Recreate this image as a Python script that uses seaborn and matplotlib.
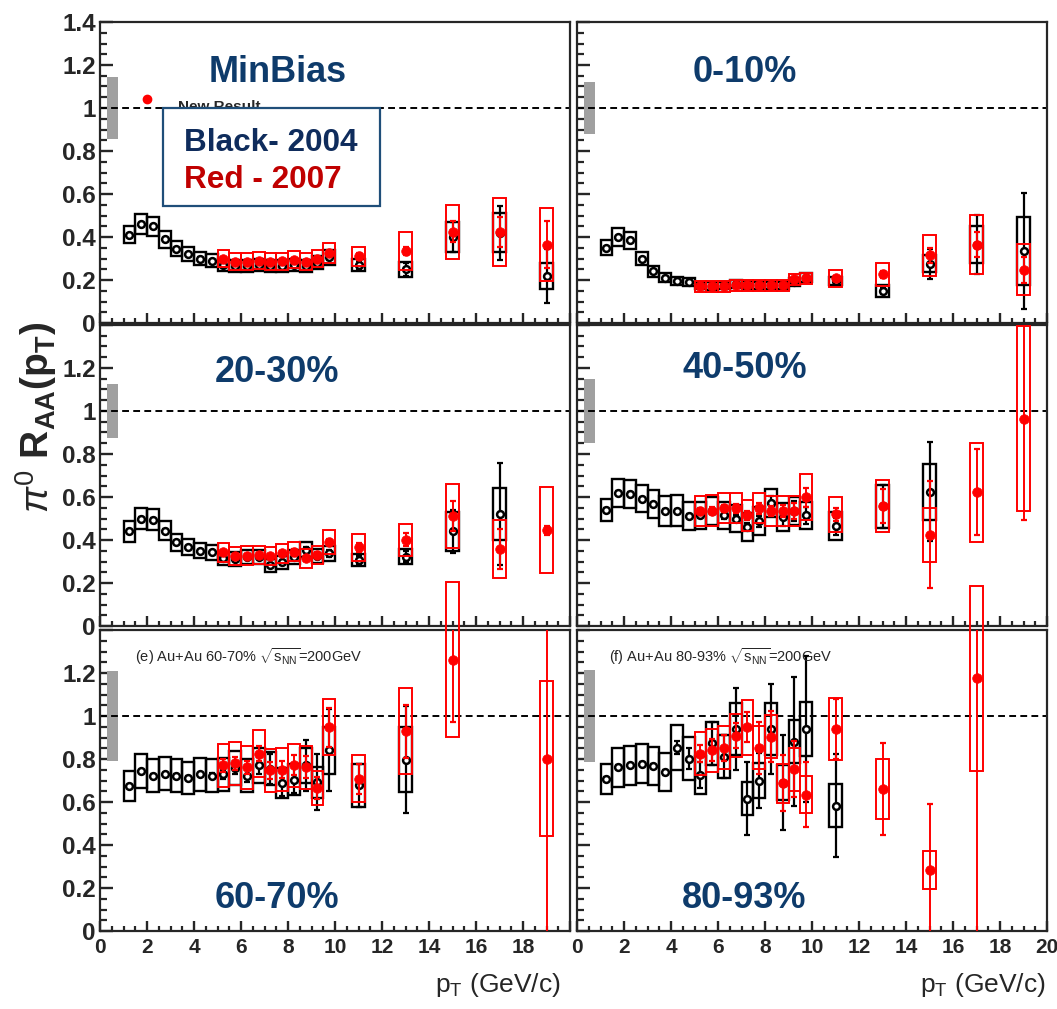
import numpy as np
import pandas as pd
import matplotlib
matplotlib.use("Agg")
import matplotlib.pyplot as plt
import seaborn as sns
from matplotlib.patches import Rectangle
from matplotlib.ticker import MultipleLocator
from matplotlib import font_manager

nan = np.nan

# ---------------- data ----------------
pt_2004 = [1.25, 1.75, 2.25, 2.75, 3.25, 3.75, 4.25, 4.75, 5.25, 5.75, 6.25, 6.75,
           7.25, 7.75, 8.25, 8.75, 9.25, 9.75, 11, 13, 15, 17, 19]
pt_2007 = [5.25, 5.75, 6.25, 6.75, 7.25, 7.75, 8.25, 8.75, 9.25, 9.75, 11, 13, 15, 17, 19]

panel_labels = ["MinBias", "0-10%", "20-30%", "40-50%", "60-70%", "80-93%"]
norm_unc = [0.145, 0.122, 0.125, 0.15, 0.21, 0.214]

# MinBias
mb04_y = [0.41, 0.46, 0.45, 0.39, 0.345, 0.32, 0.30, 0.29, 0.27, 0.265, 0.265, 0.27, 0.265, 0.265, 0.27, 0.265, 0.28, 0.305, 0.27, 0.25, 0.40, 0.42, 0.22]
mb04_stat = [0.005, 0.005, 0.005, 0.005, 0.005, 0.005, 0.005, 0.005, 0.006, 0.006, 0.006, 0.007, 0.007, 0.008, 0.008, 0.009, 0.01, 0.012, 0.02, 0.03, 0.07, 0.125, 0.125]
mb04_sys = [0.04, 0.045, 0.045, 0.04, 0.035, 0.032, 0.03, 0.03, 0.028, 0.028, 0.028, 0.028, 0.028, 0.028, 0.028, 0.028, 0.03, 0.035, 0.028, 0.035, 0.072, 0.09, 0.06]
mb07_y = [0.30, 0.285, 0.285, 0.29, 0.285, 0.287, 0.294, 0.285, 0.30, 0.325, 0.31, 0.335, 0.425, 0.423, 0.365]
mb07_stat = [0.008, 0.008, 0.008, 0.008, 0.008, 0.009, 0.009, 0.01, 0.012, 0.014, 0.015, 0.02, 0.05, 0.07, 0.11]
mb07_sys = [0.04, 0.04, 0.04, 0.04, 0.04, 0.04, 0.04, 0.04, 0.04, 0.045, 0.043, 0.09, 0.125, 0.16, 0.17]

# 0-10%
c0_04_y = [0.35, 0.40, 0.385, 0.30, 0.24, 0.21, 0.195, 0.19, 0.175, 0.172, 0.175, 0.183, 0.178, 0.175, 0.175, 0.175, 0.19, 0.21, 0.195, 0.15, 0.275, 0.365, 0.335]
c0_04_stat = [0.004, 0.004, 0.004, 0.004, 0.004, 0.004, 0.004, 0.004, 0.004, 0.004, 0.005, 0.005, 0.005, 0.006, 0.006, 0.007, 0.008, 0.009, 0.01, 0.015, 0.07, 0.138, 0.27]
c0_04_sys = [0.035, 0.04, 0.04, 0.03, 0.025, 0.021, 0.02, 0.02, 0.018, 0.018, 0.018, 0.019, 0.018, 0.018, 0.018, 0.018, 0.019, 0.021, 0.02, 0.028, 0.04, 0.087, 0.16]
c0_07_y = [0.17, 0.17, 0.17, 0.176, 0.176, 0.176, 0.176, 0.176, 0.204, 0.208, 0.208, 0.226, 0.314, 0.365, 0.248]
c0_07_stat = [0.004, 0.004, 0.004, 0.004, 0.005, 0.005, 0.005, 0.006, 0.007, 0.008, 0.01, 0.015, 0.035, 0.06, 0.06]
c0_07_sys = [0.025, 0.025, 0.025, 0.025, 0.025, 0.025, 0.025, 0.025, 0.025, 0.025, 0.04, 0.055, 0.095, 0.138, 0.12]

# 20-30%
c20_04_y = [0.44, 0.50, 0.495, 0.443, 0.39, 0.366, 0.349, 0.343, 0.314, 0.31, 0.322, 0.32, 0.283, 0.296, 0.32, 0.354, 0.327, 0.338, 0.307, 0.322, 0.44, 0.522, nan]
c20_04_stat = [0.006, 0.006, 0.006, 0.006, 0.006, 0.006, 0.006, 0.006, 0.007, 0.007, 0.008, 0.008, 0.009, 0.01, 0.011, 0.012, 0.014, 0.016, 0.02, 0.025, 0.1, 0.236, nan]
c20_04_sys = [0.047, 0.05, 0.05, 0.045, 0.04, 0.037, 0.035, 0.035, 0.032, 0.032, 0.032, 0.032, 0.03, 0.03, 0.032, 0.035, 0.033, 0.034, 0.03, 0.035, 0.09, 0.12, nan]
c20_07_y = [0.343, 0.325, 0.327, 0.33, 0.325, 0.338, 0.346, 0.314, 0.33, 0.39, 0.366, 0.401, 0.511, 0.358, 0.445]
c20_07_stat = [0.008, 0.008, 0.008, 0.008, 0.009, 0.01, 0.01, 0.011, 0.012, 0.015, 0.02, 0.03, 0.07, 0.095, 0.02]
c20_07_sys = [0.043, 0.043, 0.043, 0.043, 0.043, 0.043, 0.043, 0.043, 0.043, 0.055, 0.063, 0.075, 0.15, 0.136, 0.2]

# 40-50%
c40_04_y = [0.54, 0.62, 0.615, 0.593, 0.566, 0.535, 0.537, 0.511, 0.514, 0.537, 0.514, 0.50, 0.461, 0.487, 0.574, 0.506, 0.535, 0.514, 0.464, 0.558, 0.624, nan, nan]
c40_04_stat = [0.008, 0.008, 0.008, 0.008, 0.008, 0.008, 0.008, 0.008, 0.01, 0.012, 0.015, 0.018, 0.02, 0.025, 0.03, 0.04, 0.045, 0.04, 0.04, 0.1, 0.23, nan, nan]
c40_04_sys = [0.053, 0.066, 0.066, 0.065, 0.065, 0.07, 0.07, 0.065, 0.065, 0.065, 0.065, 0.065, 0.065, 0.065, 0.065, 0.065, 0.065, 0.065, 0.065, 0.1, 0.13, nan, nan]
c40_07_y = [0.535, 0.537, 0.547, 0.547, 0.514, 0.547, 0.535, 0.535, 0.535, 0.598, 0.519, 0.558, 0.425, 0.621, 0.964]
c40_07_stat = [0.015, 0.015, 0.018, 0.02, 0.02, 0.025, 0.025, 0.03, 0.035, 0.045, 0.03, 0.08, 0.25, 0.2, 0.47]
c40_07_sys = [0.07, 0.07, 0.07, 0.07, 0.07, 0.07, 0.07, 0.07, 0.07, 0.107, 0.08, 0.12, 0.125, 0.23, 0.43]

# 60-70%
c60_04_y = [0.673, 0.744, 0.723, 0.731, 0.723, 0.712, 0.728, 0.723, 0.728, 0.758, 0.723, 0.77, 0.755, 0.687, 0.703, 0.77, 0.692, 0.841, 0.679, 0.797, nan, nan, nan]
c60_04_stat = [0.006, 0.006, 0.006, 0.006, 0.006, 0.007, 0.008, 0.01, 0.02, 0.03, 0.03, 0.04, 0.07, 0.06, 0.06, 0.12, 0.13, 0.19, 0.1, 0.25, nan, nan, nan]
c60_04_sys = [0.07, 0.077, 0.075, 0.076, 0.075, 0.074, 0.075, 0.075, 0.075, 0.078, 0.075, 0.08, 0.078, 0.07, 0.072, 0.08, 0.072, 0.11, 0.1, 0.15, nan, nan, nan]
c60_07_y = [0.77, 0.781, 0.762, 0.825, 0.747, 0.75, 0.772, 0.762, 0.665, 0.948, 0.708, 0.928, 1.261, nan, 0.802]
c60_07_stat = [0.03, 0.03, 0.03, 0.035, 0.04, 0.04, 0.045, 0.05, 0.05, 0.09, 0.07, 0.125, 0.29, nan, 0.85]
c60_07_sys = [0.1, 0.1, 0.1, 0.11, 0.1, 0.1, 0.1, 0.1, 0.08, 0.13, 0.11, 0.2, 0.36, nan, 0.36]

# 80-93%
c80_04_y = [0.708, 0.762, 0.77, 0.778, 0.767, 0.739, 0.852, 0.802, 0.726, 0.873, 0.81, 0.94, 0.616, 0.70, 0.94, 0.69, 0.881, 0.94, 0.582, nan, nan, nan, nan]
c80_04_stat = [0.008, 0.008, 0.008, 0.01, 0.01, 0.012, 0.03, 0.05, 0.06, 0.1, 0.1, 0.19, 0.17, 0.13, 0.21, 0.22, 0.3, 0.34, 0.24, nan, nan, nan, nan]
c80_04_sys = [0.07, 0.09, 0.09, 0.09, 0.09, 0.09, 0.105, 0.1, 0.09, 0.1, 0.1, 0.12, 0.075, 0.08, 0.12, 0.08, 0.1, 0.125, 0.1, nan, nan, nan, nan]
c80_07_y = [0.825, 0.841, 0.852, 0.909, 0.947, 0.852, 0.904, 0.687, 0.752, 0.634, 0.939, 0.66, 0.283, 1.176, nan]
c80_07_stat = [0.04, 0.05, 0.06, 0.06, 0.07, 0.12, 0.12, 0.13, 0.13, 0.15, 0.14, 0.215, 0.31, 1.3, nan]
c80_07_sys = [0.1, 0.1, 0.1, 0.1, 0.128, 0.1, 0.1, 0.09, 0.1, 0.087, 0.145, 0.14, 0.088, 0.43, nan]

y_ticks = [0, 0.2, 0.4, 0.6, 0.8, 1.0, 1.2, 1.4]
y_ticklabels = ["0", "0.2", "0.4", "0.6", "0.8", "1", "1.2", "1.4"]
x_ticks = [0, 2, 4, 6, 8, 10, 12, 14, 16, 18, 20]
x_ticklabels = ["0", "2", "4", "6", "8", "10", "12", "14", "16", "18", "20"]

panels = [
    (mb04_y, mb04_stat, mb04_sys, mb07_y, mb07_stat, mb07_sys),
    (c0_04_y, c0_04_stat, c0_04_sys, c0_07_y, c0_07_stat, c0_07_sys),
    (c20_04_y, c20_04_stat, c20_04_sys, c20_07_y, c20_07_stat, c20_07_sys),
    (c40_04_y, c40_04_stat, c40_04_sys, c40_07_y, c40_07_stat, c40_07_sys),
    (c60_04_y, c60_04_stat, c60_04_sys, c60_07_y, c60_07_stat, c60_07_sys),
    (c80_04_y, c80_04_stat, c80_04_sys, c80_07_y, c80_07_stat, c80_07_sys),
]

# ---------------- style ----------------
sns.set_style("ticks")
names = {f.name for f in font_manager.fontManager.ttflist}
NARROW = "Liberation Sans Narrow" in names
tick_font = "Liberation Sans Narrow" if NARROW else "Liberation Sans"
ytick_size = 20 if NARROW else 17.5
xtick_size = 17 if NARROW else 15
xlabel_size = 22 if NARROW else 19
small_size = 12.5 if NARROW else 10.5

plt.rcParams["font.family"] = ["Liberation Sans", "DejaVu Sans"]
plt.rcParams["mathtext.fontset"] = "custom"
plt.rcParams["mathtext.rm"] = "Liberation Sans"
plt.rcParams["mathtext.it"] = "Liberation Sans:italic"
plt.rcParams["mathtext.bf"] = "Liberation Sans:bold"
plt.rcParams["axes.linewidth"] = 1.6

BLUE_TXT = "#0E3B6B"
RED = "#FF0000"

fig = plt.figure(figsize=(10.57, 10.09), dpi=100)
W, H = 1057.0, 1009.0
col_px = [(100, 570), (577, 1047)]
row_px = [(22, 323), (325, 626), (630, 931)]

label_pos = [(7.55, 1.123), (7.14, 1.123), (7.52, 1.136), (7.12, 1.154), (7.52, 0.106), (7.12, 0.106)]

for i, (y04, s04, e04, y07, s07, e07) in enumerate(panels):
    r, c = divmod(i, 2)
    x0, x1 = col_px[c]
    t0, t1 = row_px[r]
    ax = fig.add_axes([x0 / W, 1 - t1 / H, (x1 - x0) / W, (t1 - t0) / H])

    # normalisation band and unity line
    ax.add_patch(Rectangle((0.31, 1 - norm_unc[i]), 0.46, 2 * norm_unc[i],
                           facecolor="#A0A0A0", edgecolor="none", zorder=1))
    ax.axhline(1.0, color="black", lw=1.4, dashes=(3.5, 2.2), zorder=1.5)

    d04 = pd.DataFrame({"pt": pt_2004, "y": y04, "stat": s04, "sys": e04}).dropna()
    d07 = pd.DataFrame({"pt": pt_2007, "y": y07, "stat": s07, "sys": e07}).dropna()

    # systematic boxes (2004, black)
    for _, row in d04.iterrows():
        hw = 0.25 if row.pt < 10 else 0.27
        ax.add_patch(Rectangle((row.pt - hw, row.y - row.sys), 2 * hw, 2 * row.sys,
                               facecolor="none", edgecolor="black", lw=1.7,
                               zorder=2, clip_on=False))
    ax.errorbar(d04.pt, d04.y, yerr=d04.stat, fmt="none", ecolor="black",
                elinewidth=1.6, capsize=2.5, capthick=1.6, zorder=3)
    sns.scatterplot(data=d04, x="pt", y="y", ax=ax, marker="o", s=24,
                    color="black", facecolor="white", edgecolor="black",
                    linewidth=1.8, zorder=4, legend=False)

    # systematic boxes (2007, red)
    for _, row in d07.iterrows():
        hw = 0.25 if row.pt < 10 else 0.27
        ax.add_patch(Rectangle((row.pt - hw, row.y - row.sys), 2 * hw, 2 * row.sys,
                               facecolor="none", edgecolor=RED, lw=1.4,
                               zorder=5, clip_on=False))
    ax.errorbar(d07.pt, d07.y, yerr=d07.stat, fmt="none", ecolor=RED,
                elinewidth=1.4, capsize=2.0, capthick=1.6, zorder=6)
    sns.scatterplot(data=d07, x="pt", y="y", ax=ax, marker="o", s=48,
                    color=RED, edgecolor=RED, linewidth=0.5, zorder=7, legend=False)

    ax.set_xlim(0, 20)
    ax.set_ylim(0, 1.4)
    ax.set_xlabel("")
    ax.set_ylabel("")

    # ticks
    ax.xaxis.set_minor_locator(MultipleLocator(0.5))
    ax.yaxis.set_minor_locator(MultipleLocator(0.05))
    ax.tick_params(axis="both", which="both", direction="in", top=False, right=False)
    ax.tick_params(axis="y", which="major", length=9.5, width=1.7, pad=3)
    ax.tick_params(axis="y", which="minor", length=5, width=1.6)
    ax.tick_params(axis="x", which="major", length=7, width=1.7, pad=5)
    ax.tick_params(axis="x", which="minor", length=3.5, width=1.6)

    if c == 0:
        ylabs = list(y_ticklabels) if r == 0 else y_ticklabels[:-1] + [""]
        ax.set_yticks(y_ticks, ylabs, fontfamily=tick_font, fontweight="bold",
                      fontsize=ytick_size)
    else:
        ax.set_yticks(y_ticks, [""] * len(y_ticks))
    if r == 2:
        xlabs = x_ticklabels[:-1] + [""] if c == 0 else list(x_ticklabels)
        ax.set_xticks(x_ticks, xlabs, fontfamily=tick_font, fontweight="bold",
                      fontsize=xtick_size)
        ax.text(0.98 if c == 0 else 0.997, -0.18, r"p$_{\mathregular{T}}$ (GeV/c)",
                transform=ax.transAxes, ha="right", va="center",
                fontsize=xlabel_size, family=tick_font)
        ax.text(1.49 if c == 0 else 1.36, 1.251,
                ("(e) Au+Au 60-70% " if c == 0 else "(f) Au+Au 80-93% ")
                + r"$\sqrt{\mathrm{s}_{\mathrm{NN}}}$=200GeV",
                fontsize=small_size, family=tick_font, ha="left", va="baseline",
                zorder=9)
    else:
        ax.set_xticks(x_ticks, [""] * len(x_ticks))

    lx, ly = label_pos[i]
    ax.text(lx, ly, panel_labels[i], ha="center", va="baseline", fontsize=26,
            fontweight="bold", color=BLUE_TXT, zorder=10)

    if i == 0:
        ax.plot([2.0], [1.04], marker="o", ms=6, color=RED, ls="none", zorder=6.5)
        ax.text(3.3, 0.985, "New Result", fontsize=11, fontweight="bold",
                ha="left", va="baseline", zorder=6.5)
        ax.add_patch(Rectangle((2.68, 0.542), 9.22, 0.458, facecolor="white",
                               edgecolor="#1F4E79", lw=1.6, zorder=8))
        ax.text(3.58, 0.80, "Black- 2004", fontsize=22.7, fontweight="bold",
                color="#0F2C5C", ha="left", va="baseline", zorder=9)
        ax.text(3.58, 0.628, "Red - 2007", fontsize=22.7, fontweight="bold",
                color="#C00000", ha="left", va="baseline", zorder=9)

fig.text(0.034, 0.586, r"$\pi^{0}$ $\mathbf{R_{AA}(p_{T})}$", rotation=90,
         fontsize=28, fontweight="bold", ha="center", va="center")

fig.savefig("out.png", dpi=100)
